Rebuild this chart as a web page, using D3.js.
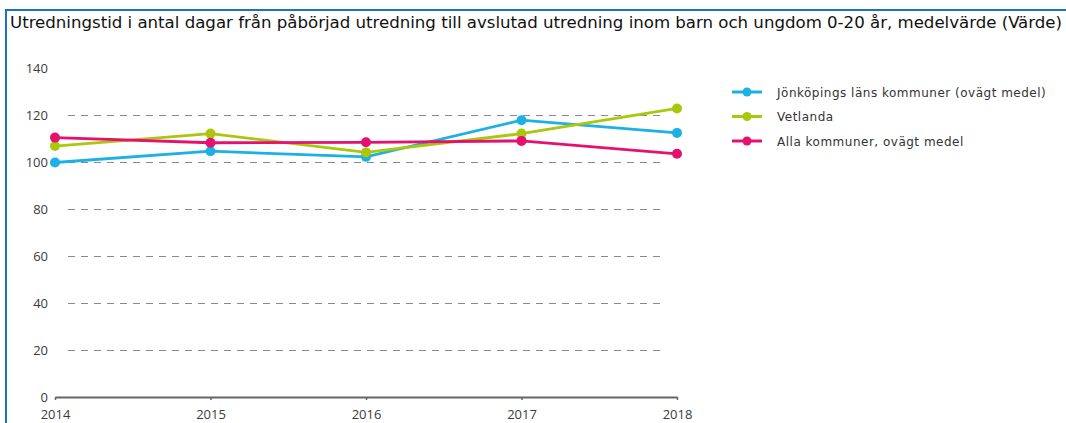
<!DOCTYPE html>
<html><head><meta charset="utf-8">
<script src="https://cdn.jsdelivr.net/npm/d3@7"></script>
<style>body{margin:0;background:#fff;} svg{display:block;}</style>
</head><body>
<svg id="c" width="1066" height="423"></svg>
<script>
const years = [2014, 2015, 2016, 2017, 2018];
const yTicks = [0, 20, 40, 60, 80, 100, 120, 140];
const gridTicks = [20, 40, 60, 80, 100, 120];
const seriesNames = ["Jönköpings läns kommuner (ovägt medel)", "Vetlanda", "Alla kommuner, ovägt medel"];
const seriesColors = ["#1cb0e3", "#a9c80c", "#e4116f"];
const jonkoping = [100.0, 104.8, 102.4, 118.0, 112.6];
const vetlanda = [107.0, 112.3, 104.3, 112.3, 123.0];
const allaKommuner = [110.6, 108.4, 108.6, 109.2, 103.7];
const seriesValues = [jonkoping, vetlanda, allaKommuner];
const title = "Utredningstid i antal dagar från påbörjad utredning till avslutad utredning inom barn och ungdom 0-20 år, medelvärde (Värde)";

const svg = d3.select("#c");
// frame
svg.append("path").attr("d", "M6,423 V10 H1066").attr("fill", "none")
  .attr("stroke", "#1a73c6").attr("stroke-width", 2);
svg.append("text").attr("x", 10).attr("y", 28).text(title)
  .attr("font-family", "DejaVu Sans Condensed, DejaVu Sans").attr("font-size", 16)
  .attr("fill", "#111").attr("textLength", 1052).attr("lengthAdjust", "spacingAndGlyphs");

const x = d3.scalePoint().domain(years).range([55, 677]);
const y = d3.scaleLinear().domain([0, 140]).range([397.5, 68.5]);

// grid
svg.append("g").selectAll("line").data(gridTicks).join("line")
  .attr("x1", 68).attr("x2", 660).attr("y1", d => y(d)).attr("y2", d => y(d))
  .attr("stroke", "#8a8a8a").attr("stroke-width", 1).attr("stroke-dasharray", "7,6");

// y labels
svg.append("g").selectAll("text").data(yTicks).join("text")
  .attr("x", 48).attr("y", d => y(d) + 4).attr("text-anchor", "end").text(d => d)
  .attr("font-family", "Open Sans").attr("font-size", 13).attr("fill", "#3a3a3a");

// x axis
const xAxis = d3.axisBottom(x).tickSize(3).tickSizeOuter(0).tickPadding(10);
const gx = svg.append("g").attr("transform", "translate(0,397)").call(xAxis);
gx.select(".domain").attr("stroke", "#666").attr("stroke-width", 2);
gx.selectAll(".tick line").attr("stroke", "#666").attr("stroke-width", 1.5);
gx.selectAll(".tick text").attr("font-family", "Open Sans").attr("font-size", 13)
  .attr("fill", "#3a3a3a");

// lines
const line = d3.line().x((d, i) => x(years[i])).y(d => y(d));
seriesValues.forEach((vals, k) => {
  const g = svg.append("g");
  g.append("path").datum(vals).attr("d", line).attr("fill", "none")
    .attr("stroke", seriesColors[k]).attr("stroke-width", 2.8);
  g.selectAll("circle").data(vals).join("circle")
    .attr("cx", (d, i) => x(years[i])).attr("cy", d => y(d)).attr("r", 5)
    .attr("fill", seriesColors[k]);
});

// legend
const lg = svg.append("g").selectAll("g").data(seriesNames).join("g")
  .attr("transform", (d, i) => `translate(732,${92 + i * 24.5})`);
lg.append("line").attr("x1", 0).attr("x2", 30).attr("stroke", (d, i) => seriesColors[i]).attr("stroke-width", 3);
lg.append("circle").attr("cx", 15).attr("r", 4.5).attr("fill", (d, i) => seriesColors[i]);
lg.append("text").attr("x", 45).attr("y", 4.5).text(d => d)
  .attr("font-family", "DejaVu Sans").attr("font-size", 12).attr("letter-spacing", 0.5).attr("fill", "#333");
</script>
</body></html>
